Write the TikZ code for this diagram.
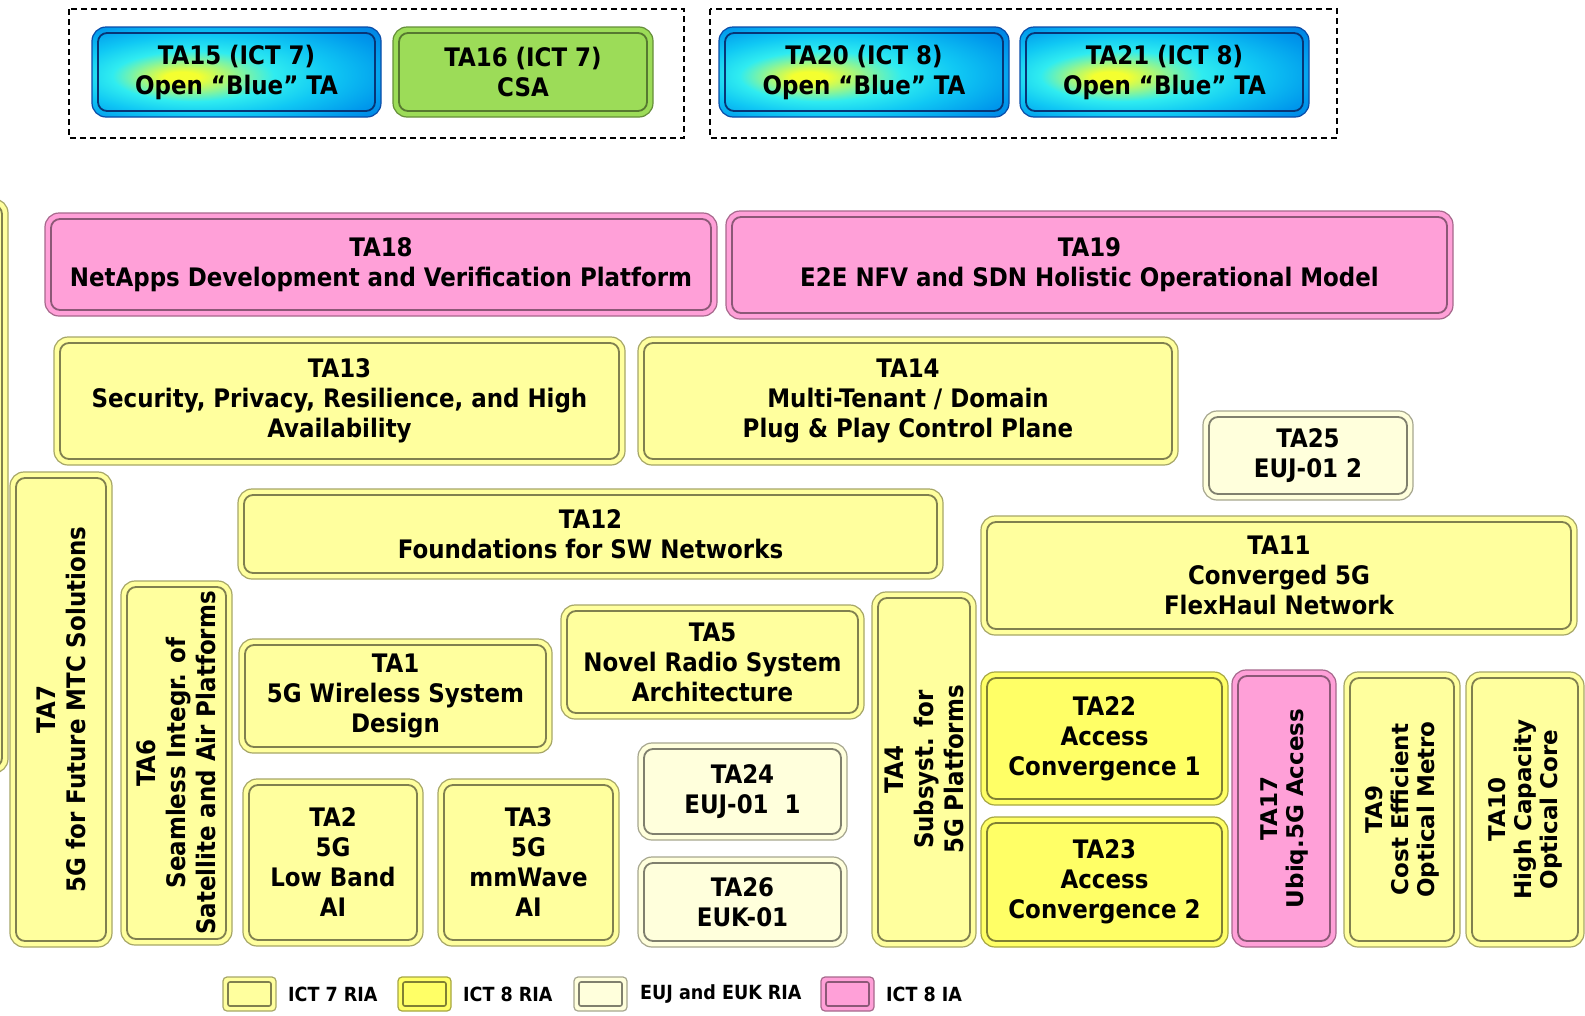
\documentclass[tikz,border=0pt]{standalone}
\usepackage{fontspec}
\newfontfamily\tafont{DejaVu Sans Condensed}
\newfontfamily\tawide{DejaVu Sans}

\definecolor{ictseven}{HTML}{FFFF9E}
\definecolor{icteight}{HTML}{FFFF66}
\definecolor{euj}{HTML}{FFFFDC}
\definecolor{ia}{HTML}{FFA0D8}
\definecolor{csa}{HTML}{9CDC58}
\definecolor{blueedge}{HTML}{0A4CA8}
\definecolor{bluedark}{HTML}{0050B8}
\definecolor{bluedeep}{HTML}{0068D8}
\definecolor{bluemid}{HTML}{0098EC}
\definecolor{bluelight}{HTML}{10C8F4}
\definecolor{bluecyan}{HTML}{30ECF0}
\definecolor{spot}{HTML}{F4FF30}

\pgfdeclareradialshading{openblue}{\pgfpoint{-10bp}{-3bp}}{%
  color(0bp)=(spot); color(3bp)=(spot); color(8bp)=(spot!55!bluecyan); color(14bp)=(bluecyan);
  color(22bp)=(bluelight); color(32bp)=(bluemid); color(44bp)=(bluedeep); color(56bp)=(bluedark)}

\tikzset{
  tabase/.style={rounded corners=14pt, line width=1.2pt, inner sep=0pt, outer sep=0pt},
  bevel/.style={rounded corners=9pt, line width=1.8pt},
  ict7/.style={fill=ictseven, draw=ictseven!65!black},
  ict7 bevel/.style={draw=ictseven!50!black},
  ict8/.style={fill=icteight, draw=icteight!65!black},
  ict8 bevel/.style={draw=icteight!50!black},
  eujbox/.style={fill=euj, draw=euj!65!black},
  eujbox bevel/.style={draw=euj!50!black},
  iabox/.style={fill=ia, draw=ia!65!black},
  iabox bevel/.style={draw=ia!55!black},
  csabox/.style={fill=csa, draw=csa!65!black},
  csabox bevel/.style={draw=csa!55!black},
  blueta/.style={shade, shading=openblue, draw=blueedge},
  blueta bevel/.style={draw=blueedge!70!black},
  talabel/.style={font=\tafont\bfseries\fontsize{25.5}{30}\selectfont, align=center, inner sep=0pt, text=black},
  widelabel/.style={font=\tawide\bfseries\fontsize{23}{26}\selectfont},
  frame/.style={draw=black, line width=1.4pt, dash pattern=on 6pt off 4pt},
  legbase/.style={rounded corners=4pt, line width=1.2pt, inner sep=0pt, outer sep=0pt,
    minimum width=53pt, minimum height=34pt},
  legbevel/.style={rounded corners=2pt, line width=1.6pt},
  legtext/.style={font=\tafont\bfseries\fontsize{19.5}{23}\selectfont, anchor=west, inner sep=0pt},
}

% box: [label options]{name}{x1}{y1}{x2}{y2}{style}{rotation}{text}
\newcommand\tabox[9][]{%
  \node[tabase,#7,minimum width={(#5-#3)*1pt},minimum height={(#6-#4)*1pt}] (#2) at ({(#3+#5)/2},{(#4+#6)/2}) {};
  \draw[bevel,#7 bevel] ([xshift=6pt,yshift=-6pt]#2.north west) rectangle ([xshift=-6pt,yshift=6pt]#2.south east);
  \node[talabel,rotate=#8,#1] (#2-t) at (#2.center) {#9};
}
% legend swatch: {name}{x}{style}
\newcommand\legbox[3]{%
  \node[legbase,#3] (#1) at ({#2+26.5},994) {};
  \draw[legbevel,#3 bevel] ([xshift=5pt,yshift=-5pt]#1.north west) rectangle ([xshift=-5pt,yshift=5pt]#1.south east);
}

\begin{document}
\begin{tikzpicture}[x=1pt,y=-1pt]
\useasboundingbox[fill=white] (0,0) rectangle (1585,1015);

% work-package groups of the calls
\draw[frame] (69,9) rectangle (684,138);
\draw[frame] (710,9) rectangle (1337,138);

\tabox{ta15}{92}{27}{381}{117}{blueta}{0}{TA15 (ICT 7)\\Open “Blue” TA}
\tabox{ta16}{393}{27}{653}{117}{csabox}{0}{TA16 (ICT 7)\\CSA}
\tabox{ta20}{719}{27}{1009}{117}{blueta}{0}{TA20 (ICT 8)\\Open “Blue” TA}
\tabox{ta21}{1020}{27}{1309}{117}{blueta}{0}{TA21 (ICT 8)\\Open “Blue” TA}

% partly hidden box at the left border
\tabox{edge}{-40}{199}{8}{773}{ict7}{0}{}

\tabox{ta18}{45}{213}{717}{316}{iabox}{0}{TA18\\NetApps Development and Verification Platform}
\tabox{ta19}{726}{211}{1453}{319}{iabox}{0}{TA19\\E2E NFV and SDN Holistic Operational Model}
\tabox{ta13}{54}{337}{625}{465}{ict7}{0}{TA13\\Security, Privacy, Resilience, and High\\Availability}
\tabox{ta14}{638}{337}{1178}{465}{ict7}{0}{TA14\\Multi-Tenant / Domain\\Plug \& Play Control Plane}
\tabox{ta25}{1203}{411}{1413}{500}{eujbox}{0}{TA25\\EUJ-01 2}
\tabox{ta7}{10}{472}{112}{947}{ict7}{90}{TA7\\5G for Future MTC Solutions}
\tabox{ta12}{238}{489}{943}{579}{ict7}{0}{TA12\\Foundations for SW Networks}
\tabox{ta11}{981}{516}{1577}{635}{ict7}{0}{TA11\\Converged 5G\\FlexHaul Network}
\tabox{ta6}{121}{581}{232}{945}{ict7}{90}{TA6\\Seamless Integr. of\\Satellite and Air Platforms}
\tabox{ta1}{239}{639}{552}{753}{ict7}{0}{TA1\\5G Wireless System\\Design}
\tabox{ta5}{561}{605}{864}{719}{ict7}{0}{TA5\\Novel Radio System\\Architecture}
\tabox{ta4}{872}{592}{976}{947}{ict7}{90}{TA4\\Subsyst. for\\5G Platforms}
\tabox{ta24}{638}{743}{847}{840}{eujbox}{0}{TA24\\EUJ-01\ \ 1}
\tabox{ta26}{638}{857}{847}{947}{eujbox}{0}{TA26\\EUK-01}
\tabox{ta2}{243}{779}{423}{946}{ict7}{0}{TA2\\5G\\Low Band\\AI}
\tabox{ta3}{438}{779}{619}{946}{ict7}{0}{TA3\\5G\\mmWave\\AI}
\tabox{ta22}{981}{672}{1228}{805}{ict8}{0}{TA22\\Access\\Convergence 1}
\tabox{ta23}{981}{817}{1228}{947}{ict8}{0}{TA23\\Access\\Convergence 2}
\tabox[widelabel]{ta17}{1232}{670}{1336}{947}{iabox}{90}{TA17\\Ubiq.5G Access}
\tabox[widelabel]{ta9}{1344}{672}{1460}{947}{ict7}{90}{TA9\\Cost Efficient\\Optical Metro}
\tabox[widelabel]{ta10}{1466}{672}{1584}{947}{ict7}{90}{TA10\\High Capacity\\Optical Core}

% legend
\legbox{lg7}{223}{ict7}
\node[legtext] (lg7-t) at (288,994) {ICT 7 RIA};
\legbox{lg8}{398}{ict8}
\node[legtext] (lg8-t) at (463,994) {ICT 8 RIA};
\legbox{lgj}{574}{eujbox}
\node[legtext] (lgj-t) at (640,994) {EUJ and EUK RIA};
\legbox{lgi}{821}{iabox}
\node[legtext] (lgi-t) at (886,994) {ICT 8 IA};
\end{tikzpicture}
\end{document}
